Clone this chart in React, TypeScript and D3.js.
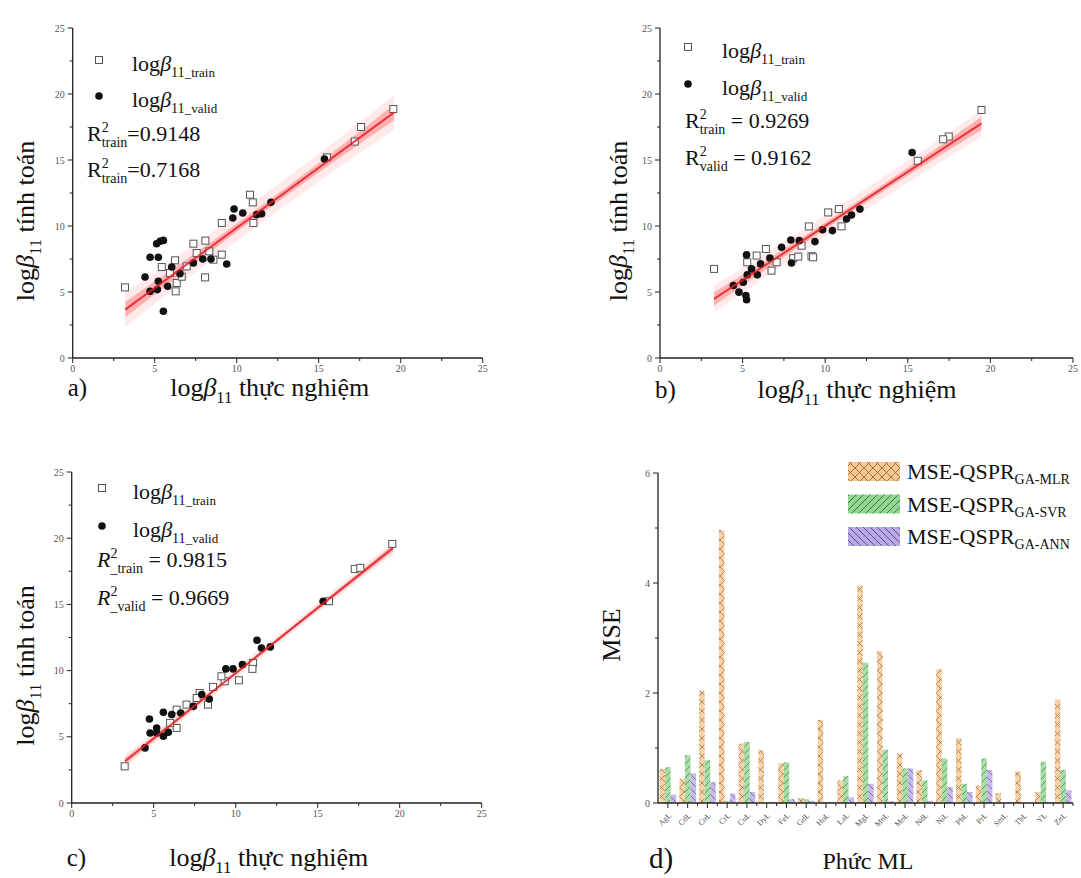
import React from 'react';
import * as d3 from 'd3';

const FONT = '"Liberation Serif", "Times New Roman", Times, serif';

// ---------- Panel a ----------
const trainA: [number, number][] = [
  [3.19, 5.35], [19.55, 18.86], [17.58, 17.5], [17.2, 16.4], [10.81, 12.37], [10.98, 11.79],
  [11.02, 10.23], [9.09, 10.23], [7.36, 8.66], [8.09, 8.89], [8.33, 8.08], [9.09, 7.83],
  [8.58, 7.45], [5.43, 6.89], [6.24, 7.4], [6.34, 5.68], [6.28, 5.05], [8.07, 6.11],
  [6.95, 6.94], [7.56, 7.95], [6.65, 6.16], [5.93, 6.44], [15.5, 15.2],
];
const validA: [number, number][] = [
  [15.35, 15.08], [12.09, 11.79], [11.52, 10.93], [11.22, 10.86], [10.37, 10.98], [9.84, 11.29],
  [9.76, 10.61], [5.12, 8.66], [5.33, 8.84], [5.53, 8.91], [4.72, 7.63], [5.22, 7.63],
  [4.41, 6.14], [4.72, 5.05], [5.16, 5.18], [5.22, 5.81], [5.79, 5.43], [6.04, 6.89],
  [5.53, 3.54], [6.54, 6.39], [7.36, 7.2], [7.93, 7.5], [8.43, 7.5], [9.39, 7.12],
];
const fitA = { slope: 0.911, intercept: 0.75, x1: 3.2, x2: 19.6, ci: [0.3, 0.6], pi: [1.0, 1.3] };

// ---------- Panel b ----------
const trainB: [number, number][] = [
  [3.27, 6.75], [19.46, 18.79], [17.48, 16.78], [17.14, 16.57], [15.6, 14.94], [10.18, 11.03],
  [10.83, 11.28], [10.99, 9.97], [9.01, 9.97], [6.41, 8.26], [6.75, 6.62], [5.28, 7.25],
  [8.06, 7.56], [8.37, 7.68], [9.17, 7.71], [9.27, 7.63], [8.57, 8.51], [7.06, 7.25], [5.85, 7.76],
];
const validB: [number, number][] = [
  [15.26, 15.57], [12.1, 11.28], [11.59, 10.83], [11.29, 10.53], [10.44, 9.65], [9.84, 9.72],
  [9.38, 8.82], [8.43, 8.89], [7.92, 8.94], [7.36, 8.39], [6.65, 7.58], [6.09, 7.13],
  [5.89, 6.3], [5.54, 6.75], [5.24, 7.81], [5.28, 6.3], [5.04, 5.74], [4.78, 4.99],
  [5.2, 4.74], [5.24, 4.41], [7.96, 7.2], [4.44, 5.49],
];
const fitB = { slope: 0.8215, intercept: 1.79, x1: 3.27, x2: 19.46, ci: [0.25, 0.5], pi: [0.8, 1.0] };

// ---------- Panel c ----------
const trainC: [number, number][] = [
  [3.23, 2.77], [19.55, 19.57], [17.26, 17.68], [17.6, 17.76], [15.69, 15.24], [11.06, 10.58],
  [11.02, 10.13], [10.2, 9.27], [9.33, 9.19], [9.13, 9.57], [7.8, 8.31], [8.31, 7.43],
  [8.62, 8.77], [7.0, 7.43], [6.4, 7.05], [6.4, 5.67], [6.0, 6.05], [7.62, 7.93],
];
const validC: [number, number][] = [
  [15.33, 15.24], [11.3, 12.29], [11.57, 11.71], [12.11, 11.79], [10.41, 10.45], [9.84, 10.13],
  [9.4, 10.13], [8.39, 7.86], [7.93, 8.19], [7.42, 7.3], [6.65, 6.8], [6.1, 6.68],
  [5.59, 6.85], [4.74, 6.35], [4.78, 5.29], [5.18, 5.67], [5.59, 5.04], [5.89, 5.34],
  [4.47, 4.16], [5.18, 5.29],
];
const fitC = { slope: 0.986, intercept: -0.055, x1: 3.25, x2: 19.6, ci: [0.12, 0.25], pi: [0.35, 0.5] };

const scatterTicks = [0, 5, 10, 15, 20, 25];
const scatterMinor = [2.5, 7.5, 12.5, 17.5, 22.5];

// ---------- Panel d ----------
const categories = ['AgL', 'CdL', 'CoL', 'CrL', 'CuL', 'DyL', 'FeL', 'GdL', 'HoL', 'LaL', 'MgL',
  'MnL', 'MoL', 'NdL', 'NiL', 'PbL', 'PrL', 'SmL', 'TbL', 'YL', 'ZnL'];
const mseMLR = [0.62, 0.44, 2.04, 4.96, 1.08, 0.96, 0.72, 0.09, 1.51, 0.41, 3.96, 2.76, 0.9, 0.6, 2.43, 1.18, 0.32, 0.18, 0.57, 0.2, 1.88];
const mseSVR = [0.65, 0.87, 0.78, 0.04, 1.11, 0.0, 0.74, 0.07, 0.02, 0.49, 2.55, 0.97, 0.63, 0.41, 0.81, 0.35, 0.81, 0.0, 0.0, 0.75, 0.6];
const mseANN = [0.15, 0.54, 0.38, 0.17, 0.2, 0.02, 0.07, 0.04, 0.02, 0.1, 0.35, 0.03, 0.63, 0.04, 0.29, 0.2, 0.6, 0.02, 0.0, 0.02, 0.23];
const mseTicks = [0, 2, 4, 6];
const mseMinor = [1, 3, 5];
const seriesNames = ['GA-MLR', 'GA-SVR', 'GA-ANN'];

type Leg = { mx: number; r1: number; r2: number; tx: number; rx: number; b1: number; b2: number };

function LogBeta({ x, y, sub, size = 22, subSize = 13, anchor = 'start', tail = '' }: any) {
  return (
    <text x={x} y={y} fontFamily={FONT} fontSize={size} textAnchor={anchor} fill="#111">
      log<tspan fontStyle="italic">β</tspan>
      <tspan fontSize={size * 0.64} dy={size * 0.27}>11</tspan>
      {sub ? <tspan fontSize={subSize}>{sub}</tspan> : null}
      <tspan dy={-size * 0.27}>{tail}</tspan>
    </text>
  );
}

function RLabel({ x, y, sub, val, italic }: any) {
  return (
    <text x={x} y={y} fontFamily={FONT} fontSize={22} fill="#111">
      <tspan fontStyle={italic ? 'italic' : 'normal'}>R</tspan>
      <tspan fontSize={14} dy={-9}>2</tspan>
      <tspan fontSize={14} dx={-7} dy={15}>{sub}</tspan>
      <tspan dy={-6}>{val}</tspan>
    </text>
  );
}

function Scatter({ ox, oy, w, h, train, valid, fit, leg, r, italic, letter, titleY, ylabX }: any) {
  const x = d3.scaleLinear().domain([0, 25]).range([ox, ox + w]);
  const y = d3.scaleLinear().domain([0, 25]).range([oy, oy - h]);
  const xm = (fit.x1 + fit.x2) / 2;
  const hr = (fit.x2 - fit.x1) / 2;
  const samples = d3.range(0, 41).map((i) => fit.x1 + ((fit.x2 - fit.x1) * i) / 40);
  const half = (rng: number[], v: number) => {
    const t = (v - xm) / hr;
    return rng[0] + (rng[1] - rng[0]) * t * t;
  };
  const line = (v: number) => fit.slope * v + fit.intercept;
  const area = (rng: number[]) =>
    d3.area<number>()
      .x((v) => x(v))
      .y0((v) => y(line(v) - half(rng, v)))
      .y1((v) => y(line(v) + half(rng, v)))(samples) as string;
  const fitPath = d3.line<number>().x((v) => x(v)).y((v) => y(line(v)))([fit.x1, fit.x2]) as string;
  return (
    <g>
      <path d={area(fit.pi)} fill="#ff6b6b" fillOpacity={0.15} />
      <path d={area(fit.ci)} fill="#ff3030" fillOpacity={0.3} />
      {train.map((p: number[], i: number) => (
        <rect key={'t' + i} x={x(p[0]) - 3.5} y={y(p[1]) - 3.5} width={7} height={7} fill="#fff" stroke="#555" strokeWidth={1} />
      ))}
      {valid.map((p: number[], i: number) => (
        <circle key={'v' + i} cx={x(p[0])} cy={y(p[1])} r={3.8} fill="#111" />
      ))}
      <path d={fitPath} stroke="#e41e26" strokeWidth={2} strokeOpacity={0.85} fill="none" />
      {/* axes */}
      <line x1={ox} y1={oy} x2={ox + w} y2={oy} stroke="#222" strokeWidth={1.3} />
      <line x1={ox} y1={oy} x2={ox} y2={oy - h} stroke="#222" strokeWidth={1.3} />
      {scatterTicks.map((t) => (
        <g key={'mt' + t}>
          <line x1={x(t)} x2={x(t)} y1={oy} y2={oy + 5} stroke="#222" />
          <line x1={ox} x2={ox - 5} y1={y(t)} y2={y(t)} stroke="#222" />
          <text x={x(t)} y={oy + 14} fontSize={10} fontFamily={FONT} textAnchor="middle" fill="#555">{t}</text>
          <text x={ox - 8} y={y(t) + 3.5} fontSize={10} fontFamily={FONT} textAnchor="end" fill="#555">{t}</text>
        </g>
      ))}
      {scatterMinor.map((t) => (
        <g key={'nt' + t}>
          <line x1={x(t)} x2={x(t)} y1={oy} y2={oy + 3} stroke="#222" />
          <line x1={ox} x2={ox - 3} y1={y(t)} y2={y(t)} stroke="#222" />
        </g>
      ))}
      {/* legend */}
      <rect x={leg.mx - 3.5} y={leg.r1 - 3.5} width={7} height={7} fill="#fff" stroke="#555" />
      <circle cx={leg.mx} cy={leg.r2} r={3.8} fill="#111" />
      <LogBeta x={leg.tx} y={leg.r1 + 11} sub="_train" />
      <LogBeta x={leg.tx} y={leg.r2 + 11} sub="_valid" />
      <RLabel x={leg.rx} y={leg.b1} sub={r[0]} val={r[1]} italic={italic} />
      <RLabel x={leg.rx} y={leg.b2} sub={r[2]} val={r[3]} italic={italic} />
      {/* titles */}
      <text x={ox - 5} y={titleY} fontFamily={FONT} fontSize={25} fill="#111">{letter}</text>
      <LogBeta x={ox + 197} y={titleY} sub="" size={26} anchor="middle" tail=" thực nghiệm" />
      <g transform={`translate(${ylabX},${oy - h / 2 + 28}) rotate(-90)`}>
        <LogBeta x={0} y={0} sub="" size={26} anchor="middle" tail=" tính toán" />
      </g>
    </g>
  );
}

function Bars() {
  const ox = 658, oy = 803, w = 415;
  const x = d3.scaleBand<string>().domain(categories).range([ox, ox + w]).paddingInner(0.16).paddingOuter(0.08);
  const xs = d3.scaleBand<number>().domain([0, 1, 2]).range([0, x.bandwidth()]);
  const y = d3.scaleLinear().domain([0, 6]).range([oy, oy - 330]);
  const series = [mseMLR, mseSVR, mseANN];
  const fills = ['url(#pOrange)', 'url(#pGreen)', 'url(#pPurple)'];
  const step = x.step();
  return (
    <g>
      {categories.map((c, i) => (
        <g key={c}>
          {series.map((s, k) => (
            s[i] > 0 ? (
              <rect key={k} x={(x(c) as number) + (xs(k) as number)} y={y(s[i])} width={xs.bandwidth()} height={oy - y(s[i])}
                fill={fills[k]} fillOpacity={0.8} />
            ) : null
          ))}
        </g>
      ))}
      <line x1={ox} y1={oy} x2={ox + w} y2={oy} stroke="#222" strokeWidth={1.3} />
      <line x1={ox} y1={oy} x2={ox} y2={y(6)} stroke="#222" strokeWidth={1.3} />
      {categories.map((c, i) => {
        const cx = (x(c) as number) + x.bandwidth() / 2;
        return (
          <g key={'tk' + c}>
            <line x1={cx} x2={cx} y1={oy} y2={oy + 5} stroke="#222" />
            <line x1={cx + step / 2} x2={cx + step / 2} y1={oy} y2={oy + 3} stroke="#222" />
            <text transform={`translate(${cx + 4},${oy + 13}) rotate(-45)`} fontSize={8} fontFamily={FONT} textAnchor="end" fill="#555">{c}</text>
          </g>
        );
      })}
      {mseTicks.map((t) => (
        <g key={'yt' + t}>
          <line x1={ox} x2={ox - 5} y1={y(t)} y2={y(t)} stroke="#222" />
          <text x={ox - 8} y={y(t) + 3.5} fontSize={10} fontFamily={FONT} textAnchor="end" fill="#555">{t}</text>
        </g>
      ))}
      {mseMinor.map((t) => (
        <line key={'ym' + t} x1={ox} x2={ox - 3} y1={y(t)} y2={y(t)} stroke="#222" />
      ))}
      {/* legend */}
      {seriesNames.map((n, k) => (
        <g key={n}>
          <rect x={848} y={462 + k * 32.5} width={52} height={19} fill={fills[k]} />
          <text x={907} y={479 + k * 32.5} fontFamily={FONT} fontSize={22} fill="#111">
            MSE-QSPR<tspan fontSize={14} dy={5}>{n}</tspan>
          </text>
        </g>
      ))}
      <text x={649} y={868} fontFamily={FONT} fontSize={29} fill="#111">d)</text>
      <text x={868} y={869} fontFamily={FONT} fontSize={24} textAnchor="middle" fill="#111">Phức ML</text>
      <text transform={`translate(620,${oy - 168}) rotate(-90)`} fontFamily={FONT} fontSize={26} textAnchor="middle" fill="#111">MSE</text>
    </g>
  );
}

export default function App() {
  const legA: Leg = { mx: 99, r1: 60, r2: 96, tx: 132, rx: 87, b1: 141, b2: 177 };
  const legB: Leg = { mx: 688, r1: 47, r2: 84, tx: 722, rx: 685, b1: 128, b2: 165 };
  const legC: Leg = { mx: 102, r1: 488, r2: 526, tx: 133, rx: 97, b1: 567, b2: 605 };
  return (
    <svg width={1081} height={878} style={{ position: 'absolute', left: 0, top: 0, background: '#fff' }}>
      <defs>
        <pattern id="pOrange" patternUnits="userSpaceOnUse" width={9} height={9}>
          <rect width={9} height={9} fill="#f8c892" />
          <path d="M0,0 L9,9 M9,0 L0,9" stroke="#8a5a2a" strokeWidth={0.8} />
        </pattern>
        <pattern id="pGreen" patternUnits="userSpaceOnUse" width={7} height={7}>
          <rect width={7} height={7} fill="#92d592" />
          <path d="M-1,1 L1,-1 M0,7 L7,0 M6,8 L8,6" stroke="#2f7a2f" strokeWidth={0.9} />
        </pattern>
        <pattern id="pPurple" patternUnits="userSpaceOnUse" width={7} height={7}>
          <rect width={7} height={7} fill="#b9a9e2" />
          <path d="M-1,6 L1,8 M0,0 L7,7 M6,-1 L8,1" stroke="#5a4a90" strokeWidth={0.9} />
        </pattern>
      </defs>
      <Scatter ox={72.7} oy={358} w={410} h={330} train={trainA} valid={validA} fit={fitA} leg={legA}
        r={['train', '=0.9148', 'train', '=0.7168']} italic={false} letter="a)" titleY={396} ylabX={34} />
      <Scatter ox={660} oy={358} w={413} h={330} train={trainB} valid={validB} fit={fitB} leg={legB}
        r={['train', ' = 0.9269', 'valid', ' = 0.9162']} italic={false} letter="b)" titleY={398} ylabX={627} />
      <Scatter ox={71.7} oy={803} w={410} h={331} train={trainC} valid={validC} fit={fitC} leg={legC}
        r={['_train', ' = 0.9815', '_valid', ' = 0.9669']} italic={true} letter="c)" titleY={866} ylabX={34} />
      <Bars />
    </svg>
  );
}
